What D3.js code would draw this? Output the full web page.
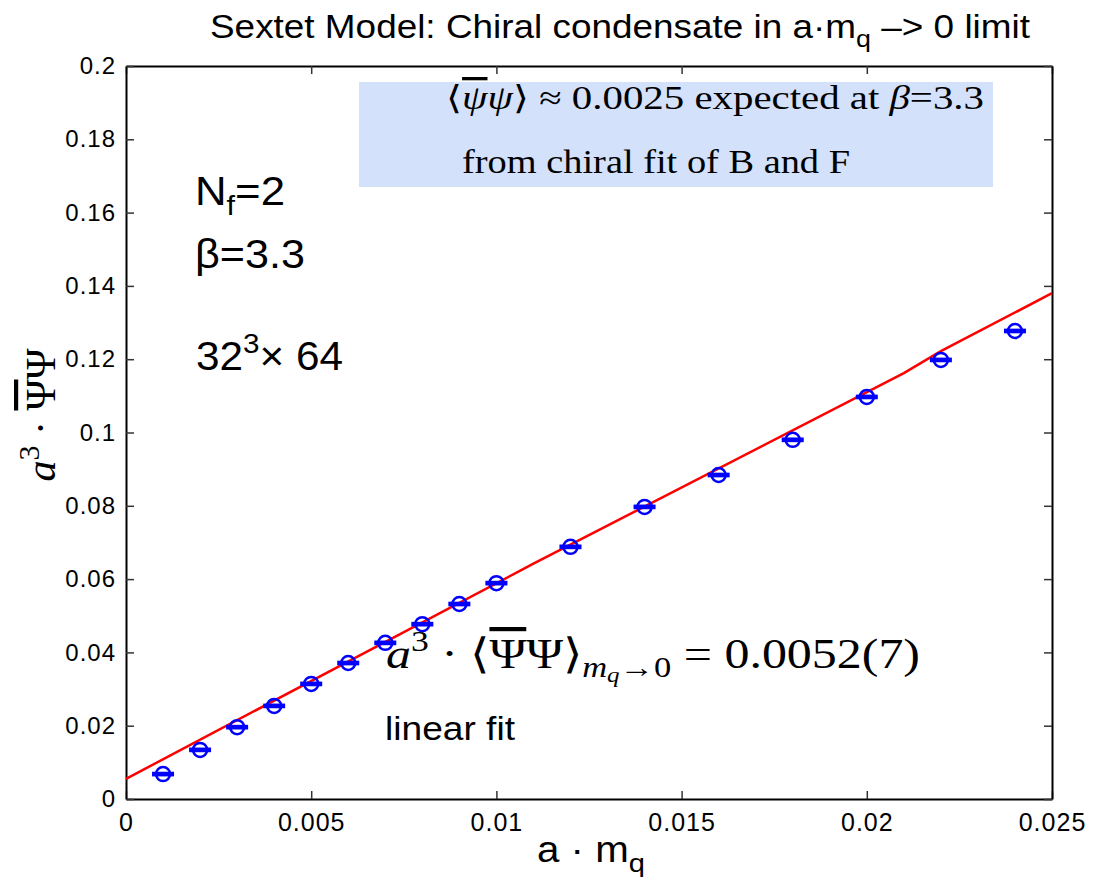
<!DOCTYPE html>
<html>
<head>
<meta charset="utf-8">
<script src="https://cdn.jsdelivr.net/npm/d3@7"></script>
<style>
  body { margin: 0; background: #fff; }
  svg text { font-family: "Liberation Sans", Arial, sans-serif; }
</style>
</head>
<body>
<div id="chart"></div>
<script>
// Data
const massValues = [0.001, 0.002, 0.003, 0.004, 0.005, 0.006, 0.007, 0.008, 0.009, 0.010,
    0.012, 0.014, 0.016, 0.018, 0.020, 0.022, 0.024];
const condensateValues = [0.0068, 0.0134, 0.0196, 0.0254, 0.0314, 0.0371, 0.0426, 0.0477, 0.0532, 0.0589,
    0.0688, 0.0797, 0.0884, 0.0980, 0.1097, 0.1198, 0.1277];
const condensateErrors = [0.0003, 0.0003, 0.0003, 0.0003, 0.0003, 0.0003, 0.0003, 0.0003, 0.0003, 0.0003,
    0.0003, 0.0003, 0.0003, 0.0003, 0.0003, 0.0003, 0.0003];
const fitMass = [0, 0.011, 0.021, 0.022, 0.025];
const fitValues = [0.0055, 0.0642, 0.1162, 0.1222, 0.1380];
const xTicks = [0, 0.005, 0.01, 0.015, 0.02, 0.025];
const yTicks = [0, 0.02, 0.04, 0.06, 0.08, 0.1, 0.12, 0.14, 0.16, 0.18, 0.2];

const width = 1104, height = 885;
const margin = { top: 66, right: 52, bottom: 86, left: 126 };

const svg = d3.select("#chart").append("svg")
    .attr("width", width)
    .attr("height", height);

const x = d3.scaleLinear()
    .domain([0, 0.025])
    .range([margin.left, width - margin.right]);

const y = d3.scaleLinear()
    .domain([0, 0.2])
    .range([height - margin.bottom, margin.top]);

const fmt = d => String(+d.toFixed(3));
const serif = "'Liberation Serif', 'Times New Roman', serif";
const stretch = (sel, len) => sel.attr("textLength", len).attr("lengthAdjust", "spacingAndGlyphs");

// info box
svg.append("rect")
    .attr("x", 359).attr("y", 82)
    .attr("width", 634).attr("height", 105)
    .attr("fill", "#d4e1fb");

// axes (inward ticks on all sides)
const tickLen = 8;
svg.append("g")
    .attr("transform", `translate(0,${y(0)})`)
    .call(d3.axisBottom(x).tickValues(xTicks).tickFormat(fmt).tickSizeInner(-tickLen).tickSizeOuter(0).tickPadding(14))
    .call(g => g.selectAll("text").attr("font-size", 25).attr("letter-spacing", 1).attr("fill", "#000"));
svg.append("g")
    .attr("transform", `translate(0,${y(0.2)})`)
    .call(d3.axisTop(x).tickValues(xTicks).tickFormat("").tickSizeInner(-tickLen).tickSizeOuter(0));
svg.append("g")
    .attr("transform", `translate(${x(0)},0)`)
    .call(d3.axisLeft(y).tickValues(yTicks).tickFormat(fmt).tickSizeInner(-tickLen).tickSizeOuter(0).tickPadding(10))
    .call(g => g.selectAll("text").attr("font-size", 24).attr("letter-spacing", 1).attr("fill", "#000"));
svg.append("g")
    .attr("transform", `translate(${x(0.025)},0)`)
    .call(d3.axisRight(y).tickValues(yTicks).tickFormat("").tickSizeInner(-tickLen).tickSizeOuter(0));

svg.selectAll(".domain").attr("stroke", "#000").attr("stroke-width", 2);
svg.selectAll(".tick line").attr("stroke", "#333").attr("stroke-width", 1.5);

// fit line
const fitData = fitMass.map((m, i) => ({ m, v: fitValues[i] }));
svg.append("path")
    .datum(fitData)
    .attr("fill", "none")
    .attr("stroke", "#ff0000")
    .attr("stroke-width", 2.5)
    .attr("d", d3.line().x(d => x(d.m)).y(d => y(d.v)));

// data points with error bars
const points = massValues.map((m, i) => ({ m, v: condensateValues[i], e: condensateErrors[i] }));
const pts = svg.append("g").selectAll("g").data(points).join("g");
pts.append("line")
    .attr("x1", d => x(d.m)).attr("x2", d => x(d.m))
    .attr("y1", d => y(d.v - d.e)).attr("y2", d => y(d.v + d.e))
    .attr("stroke", "#0000ff").attr("stroke-width", 2.5);
[-1, 1].forEach(s => {
    pts.append("line")
        .attr("x1", d => x(d.m) - 11).attr("x2", d => x(d.m) + 11)
        .attr("y1", d => y(d.v + s * d.e)).attr("y2", d => y(d.v + s * d.e))
        .attr("stroke", "#0000ff").attr("stroke-width", 2.5);
});
pts.append("circle")
    .attr("cx", d => x(d.m)).attr("cy", d => y(d.v))
    .attr("r", 7)
    .attr("fill", "none")
    .attr("stroke", "#0000ff")
    .attr("stroke-width", 2.5);

// title
const title = svg.append("text")
    .attr("x", 210).attr("y", 38)
    .attr("font-size", 33);
title.append("tspan").text("Sextet Model: Chiral condensate in a\u00B7m");
title.append("tspan").attr("dy", 9).attr("font-size", 24).text("q");
title.append("tspan").attr("dy", -9).text(" \u2013> 0 limit");
stretch(title, 820);

// x label
const xl = svg.append("text")
    .attr("x", 537).attr("y", 862)
    .attr("font-size", 36);
xl.append("tspan").text("a \u00B7 m");
xl.append("tspan").attr("dy", 10).attr("font-size", 26).text("q");
stretch(xl, 108);

// y label
const yl = svg.append("text")
    .attr("transform", "translate(55,415) rotate(-90)")
    .attr("text-anchor", "middle")
    .style("font-family", serif)
    .attr("font-size", 42);
yl.append("tspan").attr("font-style", "italic").text("a");
yl.append("tspan").attr("dy", -16).attr("font-size", 30).text("3");
yl.append("tspan").attr("dy", 16).text(" \u00B7 ");
yl.append("tspan").style("text-decoration", "overline").text("\u03A8");
yl.append("tspan").text("\u03A8");

// box text
const b1 = svg.append("text")
    .attr("x", 446).attr("y", 109)
    .style("font-family", serif)
    .attr("font-size", 33);
b1.append("tspan").text("\u27E8");
b1.append("tspan").attr("font-style", "italic").style("text-decoration", "overline").text("\u03C8");
b1.append("tspan").attr("font-style", "italic").text("\u03C8");
b1.append("tspan").text("\u27E9 \u2248 0.0025 expected at ");
b1.append("tspan").attr("font-style", "italic").text("\u03B2");
b1.append("tspan").text("=3.3");
stretch(b1, 538);
stretch(svg.append("text")
    .attr("x", 462).attr("y", 173)
    .style("font-family", serif)
    .attr("font-size", 33)
    .text("from chiral fit of B and F"), 388);

// parameters
const nf = svg.append("text").attr("x", 195).attr("y", 205).attr("font-size", 40);
nf.append("tspan").text("N");
nf.append("tspan").attr("dy", 10).attr("font-size", 28).text("f");
nf.append("tspan").attr("dy", -10).text("=2");
stretch(nf, 90);
stretch(svg.append("text").attr("x", 195).attr("y", 268).attr("font-size", 40).text("\u03B2=3.3"), 110);
const lat = svg.append("text").attr("x", 196).attr("y", 370).attr("font-size", 40);
lat.append("tspan").text("32");
lat.append("tspan").attr("dy", -17).attr("font-size", 28).text("3");
lat.append("tspan").attr("dy", 17).text("\u00D7 64");
stretch(lat, 147);

// fit result
const fr = svg.append("text")
    .attr("x", 386).attr("y", 668)
    .style("font-family", serif)
    .attr("font-size", 42);
fr.append("tspan").attr("font-style", "italic").text("a");
fr.append("tspan").attr("dy", -17).attr("font-size", 30).text("3");
fr.append("tspan").attr("dy", 17).text(" \u00B7 \u27E8");
fr.append("tspan").style("text-decoration", "overline").text("\u03A8");
fr.append("tspan").text("\u03A8\u27E9");
fr.append("tspan").attr("dy", 9).attr("font-size", 29).attr("font-style", "italic").text("m");
fr.append("tspan").attr("dy", 5).attr("font-size", 21).attr("font-style", "italic").text("q");
fr.append("tspan").attr("dy", -5).attr("font-size", 29).text("\u21920");
fr.append("tspan").attr("dy", -9).text(" = 0.0052(7)");
stretch(fr, 534);

stretch(svg.append("text")
    .attr("x", 385).attr("y", 740)
    .attr("font-size", 33)
    .text("linear fit"), 130);
</script>
</body>
</html>
